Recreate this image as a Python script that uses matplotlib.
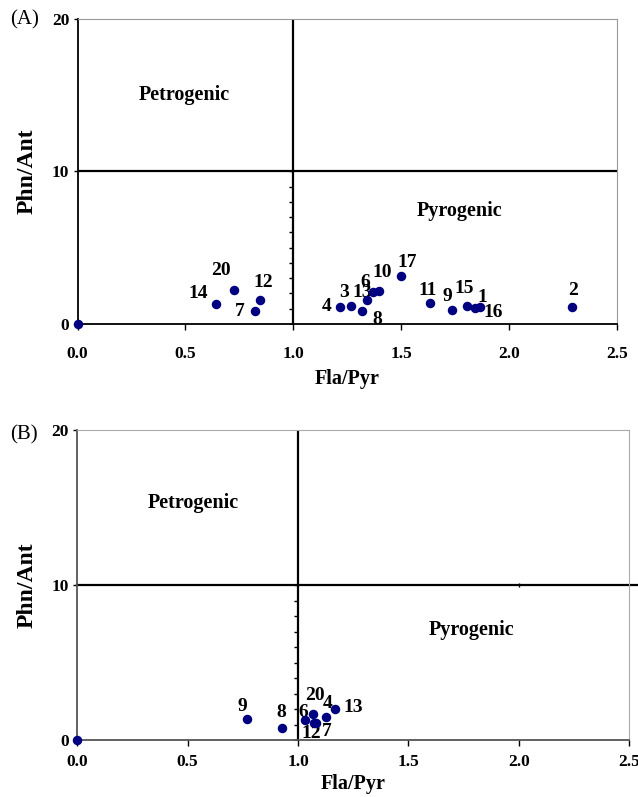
import matplotlib
matplotlib.use('Agg')
import matplotlib.pyplot as plt

plt.rcParams['font.family'] = ['Liberation Serif', 'DejaVu Serif']

# ── data ─────────────────────────────────────────────────────────────────────
a_labels = ['14', '20', '12', '7', '4', '3', '8', '13', '6', '10', '17',
            '11', '9', '15', '16', '1', '2']
a_fla_pyr = [0.642, 0.724, 0.846, 0.823, 1.215, 1.267, 1.317, 1.343, 1.369,
             1.396, 1.501, 1.636, 1.736, 1.806, 1.843, 1.867, 2.291]
a_phn_ant = [1.29, 2.25, 1.55, 0.83, 1.12, 1.19, 0.83, 1.55, 2.08,
             2.16, 3.17, 1.38, 0.92, 1.20, 1.07, 1.14, 1.09]

b_labels = ['9', '8', '6', '20', '12', '7', '4', '13']
b_fla_pyr = [0.767, 0.928, 1.031, 1.070, 1.072, 1.080, 1.125, 1.169]
b_phn_ant = [1.39, 0.79, 1.31, 1.69, 1.15, 1.10, 1.48, 2.03]

# label offsets in pixels (dx right, dy down) relative to each point
a_offsets = {'14': (-18, -11), '20': (-13, -19), '12': (3, -18), '7': (-15, 0),
             '4': (-13, 0), '3': (-7, -13), '8': (16, 8), '13': (-5, -8),
             '6': (-7, -10), '10': (4, -19), '17': (6, -13), '11': (-3, -12),
             '9': (-4, -13), '15': (-3, -17), '16': (18, 5), '1': (2, -9),
             '2': (2, -17)}
b_offsets = {'9': (-4, -12), '8': (-1, -16), '6': (-2, -8), '20': (1, -19),
             '12': (-3, 11), '7': (11, 8), '4': (2, -14), '13': (18, -1)}

PT = 0.72  # pixels -> points at dpi 100
NAVY = '#000080'


def draw_panel(ax, xs, ys, labels, offsets, petro_xy, pyro_xy,
               frame_color, far_color, xpad, xlabelpad, extend_h=False):
    ax.set_xlim(0, 2.5)
    ax.set_ylim(0, 20)
    ax.set_xticks([0, 0.5, 1.0, 1.5, 2.0, 2.5])
    ax.set_xticklabels(['0.0', '0.5', '1.0', '1.5', '2.0', '2.5'])
    ax.set_yticks([0, 10, 20])
    ax.tick_params(direction='out', length=4, width=1, colors='black',
                   labelsize=12.5)
    ax.tick_params(axis='x', pad=xpad)
    ax.tick_params(axis='y', pad=3, length=3)
    for lab in ax.get_xticklabels() + ax.get_yticklabels():
        lab.set_fontweight('bold')
    for side in ('left', 'bottom'):
        ax.spines[side].set_color(frame_color)
        ax.spines[side].set_linewidth(1.3)
    ax.spines['top'].set_color(far_color)
    ax.spines['right'].set_color(far_color)

    # quadrant lines
    ax.axvline(1.0, color='black', lw=1.6, zorder=2)
    if extend_h:
        ax.plot([0, 2.54], [10, 10], color='black', lw=1.6, clip_on=False,
                zorder=2)
    else:
        ax.axhline(10, color='black', lw=1.6, zorder=2)
    ax.plot([1.0] * 11, list(range(11)), ls='none', marker=0, ms=3,
            mew=1, color='black', zorder=2)

    ax.scatter([0], [0], s=34, color=NAVY, clip_on=False, zorder=5)
    ax.scatter(xs, ys, s=34, color=NAVY, zorder=4)
    for x, y, lab in zip(xs, ys, labels):
        dx, dy = offsets[lab]
        ax.annotate(lab, (x, y), xytext=(dx * PT, -dy * PT),
                    textcoords='offset points', ha='center', va='center',
                    fontsize=14, fontweight='bold')

    ax.text(*petro_xy, 'Petrogenic', ha='center', va='center',
            fontsize=14.5, fontweight='bold')
    ax.text(*pyro_xy, 'Pyrogenic', ha='center', va='center',
            fontsize=14.5, fontweight='bold')
    ax.set_xlabel('Fla/Pyr', fontsize=14.5, fontweight='bold',
                  labelpad=xlabelpad)
    ax.set_ylabel('Phn/Ant', fontsize=17, fontweight='bold', labelpad=10)


fig = plt.figure(figsize=(6.38, 7.97), dpi=100)
ax_a = fig.add_axes([0.1215, 0.5935, 0.845, 0.3827])
ax_b = fig.add_axes([0.1212, 0.0710, 0.8647, 0.3900])

draw_panel(ax_a, a_fla_pyr, a_phn_ant, a_labels, a_offsets,
           (0.494, 15.0), (1.773, 7.4), 'black', '#999999', 12, 5)
draw_panel(ax_b, b_fla_pyr, b_phn_ant, b_labels, b_offsets,
           (0.524, 15.3), (1.786, 7.1), '#555555', '#aaaaaa', 6, 3,
           extend_h=True)
ax_b.plot([2.0], [10], marker='|', ms=3, color='black')

fig.text(10 / 638, 1 - 20 / 797, '(A)', ha='left', va='center', fontsize=15)
fig.text(10 / 638, 1 - 435 / 797, '(B)', ha='left', va='center', fontsize=15)

fig.savefig('out.png', dpi=100)
